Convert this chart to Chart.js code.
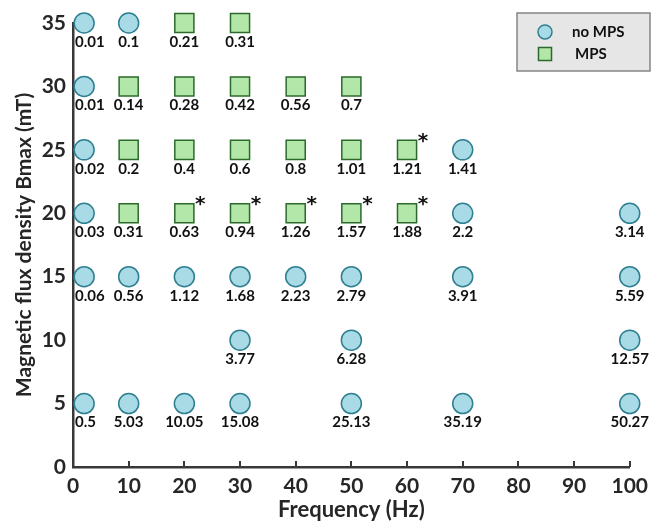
<!DOCTYPE html>
<html>
<head>
<meta charset="utf-8">
<script src="https://cdn.jsdelivr.net/npm/chart.js@4/dist/chart.umd.min.js"></script>
<style>
  html, body { margin: 0; padding: 0; background: #fff; }
  #wrap { width: 655px; height: 523px; position: relative; }
</style>
</head>
<body>
<div id="wrap"><canvas id="c"></canvas></div>
<script>
// Exposure conditions without MPS: frequency (Hz), flux density (mT), value label
const noMpsFreq  = [2, 10, 2, 2, 70, 2, 70, 100, 2, 10, 20, 30, 40, 50, 70, 100, 30, 50, 100, 2, 10, 20, 30, 50, 70, 100];
const noMpsB     = [35, 35, 30, 25, 25, 20, 20, 20, 15, 15, 15, 15, 15, 15, 15, 15, 10, 10, 10, 5, 5, 5, 5, 5, 5, 5];
const noMpsValue = ['0.01', '0.1', '0.01', '0.02', '1.41', '0.03', '2.2', '3.14', '0.06', '0.56', '1.12', '1.68', '2.23', '2.79', '3.91', '5.59', '3.77', '6.28', '12.57', '0.5', '5.03', '10.05', '15.08', '25.13', '35.19', '50.27'];

// Exposure conditions with MPS
const mpsFreq  = [20, 30, 10, 20, 30, 40, 50, 10, 20, 30, 40, 50, 60, 10, 20, 30, 40, 50, 60];
const mpsB     = [35, 35, 30, 30, 30, 30, 30, 25, 25, 25, 25, 25, 25, 20, 20, 20, 20, 20, 20];
const mpsValue = ['0.21', '0.31', '0.14', '0.28', '0.42', '0.56', '0.7', '0.2', '0.4', '0.6', '0.8', '1.01', '1.21', '0.31', '0.63', '0.94', '1.26', '1.57', '1.88'];
const mpsStar  = [false, false, false, false, false, false, false, false, false, false, false, false, true, false, true, true, true, true, true];

const xTicks = [0, 10, 20, 30, 40, 50, 60, 70, 80, 90, 100];
const yTicks = [0, 5, 10, 15, 20, 25, 30, 35];

const FONT = 'Lato, "Open Sans", sans-serif';
const INK = '#262626';

function pts(xs, ys, vs) {
  return xs.map((x, i) => ({ x: x, y: ys[i], v: vs[i] }));
}

// Value labels under every marker, plus asterisks on flagged MPS points
const labelPlugin = {
  id: 'valueLabels',
  afterDatasetsDraw(chart) {
    const ctx = chart.ctx;
    const area = chart.chartArea;
    ctx.save();
    ctx.fillStyle = '#111';
    ctx.textBaseline = 'middle';
    ctx.textAlign = 'center';
    chart.data.datasets.forEach((ds, di) => {
      const meta = chart.getDatasetMeta(di);
      meta.data.forEach((el, i) => {
        const txt = ds.data[i].v;
        ctx.font = 'bold 15px ' + FONT;
        const w = ctx.measureText(txt).width;
        const cx = Math.max(el.x, area.left + 2 + w / 2);
        ctx.fillText(txt, cx, el.y + 19);
        if (ds.stars && ds.stars[i]) {
          ctx.font = 'bold 20px "DejaVu Sans", sans-serif';
          ctx.fillText('*', el.x + 16, el.y - 8);
        }
      });
    });
    ctx.restore();
  }
};

// Short inward tick marks on the frequency axis
const innerTicks = {
  id: 'innerTicks',
  afterDraw(chart) {
    const ctx = chart.ctx;
    const xs = chart.scales.x;
    const bottom = chart.chartArea.bottom;
    ctx.save();
    ctx.strokeStyle = '#383838';
    ctx.lineWidth = 2;
    xTicks.forEach(t => {
      if (t === 0) return;
      const px = Math.round(xs.getPixelForValue(t));
      ctx.beginPath();
      ctx.moveTo(px, bottom);
      ctx.lineTo(px, bottom - 6);
      ctx.stroke();
    });
    ctx.restore();
  }
};

// Boxed legend in the top-right corner
const boxLegend = {
  id: 'boxLegend',
  afterDraw(chart) {
    const ctx = chart.ctx;
    ctx.save();
    const bx = 517, by = 13, bw = 133, bh = 58;
    ctx.fillStyle = '#e6e6e6';
    ctx.fillRect(bx, by, bw, bh);
    ctx.strokeStyle = '#858585';
    ctx.lineWidth = 1.5;
    ctx.strokeRect(bx, by, bw, bh);
    chart.data.datasets.forEach((ds, i) => {
      const cy = by + 19 + i * 22;
      const cx = bx + 28;
      ctx.fillStyle = ds.backgroundColor;
      ctx.strokeStyle = ds.borderColor;
      ctx.lineWidth = 1.5;
      ctx.beginPath();
      if (ds.pointStyle === 'circle') {
        ctx.arc(cx, cy, 7, 0, Math.PI * 2);
      } else {
        ctx.rect(cx - 6.5, cy - 6.5, 13, 13);
      }
      ctx.fill();
      ctx.stroke();
      ctx.fillStyle = '#111';
      ctx.font = 'bold 15px ' + FONT;
      ctx.textAlign = 'left';
      ctx.textBaseline = 'middle';
      ctx.fillText(ds.label, bx + (i === 0 ? 55 : 58), cy);
    });
    ctx.restore();
  }
};

new Chart(document.getElementById('c'), {
  type: 'scatter',
  data: {
    datasets: [
      {
        label: 'no MPS',
        data: pts(noMpsFreq, noMpsB, noMpsValue),
        pointStyle: 'circle',
        pointRadius: 10,
        pointHoverRadius: 10,
        backgroundColor: '#a9dbe7',
        borderColor: '#2e7f91',
        borderWidth: 1.5
      },
      {
        label: 'MPS',
        data: pts(mpsFreq, mpsB, mpsValue),
        stars: mpsStar,
        pointStyle: 'rect',
        pointRadius: 13.5,
        pointHoverRadius: 13.5,
        backgroundColor: '#b3e7a9',
        borderColor: '#2c6a2c',
        borderWidth: 1.5
      }
    ]
  },
  options: {
    responsive: true,
    maintainAspectRatio: false,
    animation: false,
    clip: false,
    layout: { padding: { top: 23, right: 21, left: 12, bottom: 0 } },
    plugins: {
      legend: { display: false },
      tooltip: { enabled: false }
    },
    scales: {
      x: {
        type: 'linear',
        min: 0,
        max: 100,
        afterBuildTicks: s => { s.ticks = xTicks.map(v => ({ value: v })); },
        afterFit: s => { s.height = 56; },
        grid: { display: false, drawTicks: false },
        border: { display: true, color: '#383838', width: 2.5 },
        ticks: { color: INK, padding: 7, font: { family: FONT, size: 21, weight: 'bold' } },
        title: {
          display: true,
          text: 'Frequency (Hz)',
          color: INK,
          padding: { top: 0, bottom: 0 },
          font: { family: FONT, size: 22, weight: 'bold' }
        }
      },
      y: {
        type: 'linear',
        min: 0,
        max: 35,
        afterBuildTicks: s => { s.ticks = yTicks.map(v => ({ value: v })); },
        afterFit: s => { s.width = 61; },
        grid: { display: false, drawTicks: false },
        border: { display: true, color: '#383838', width: 2.5 },
        ticks: { color: INK, padding: 7, font: { family: FONT, size: 21, weight: 'bold' } },
        title: {
          display: true,
          text: 'Magnetic flux density Bmax (mT)',
          color: INK,
          padding: { top: 0, bottom: 0 },
          font: { family: FONT, size: 21, weight: 'bold' }
        }
      }
    }
  },
  plugins: [labelPlugin, innerTicks, boxLegend]
});
</script>
</body>
</html>
